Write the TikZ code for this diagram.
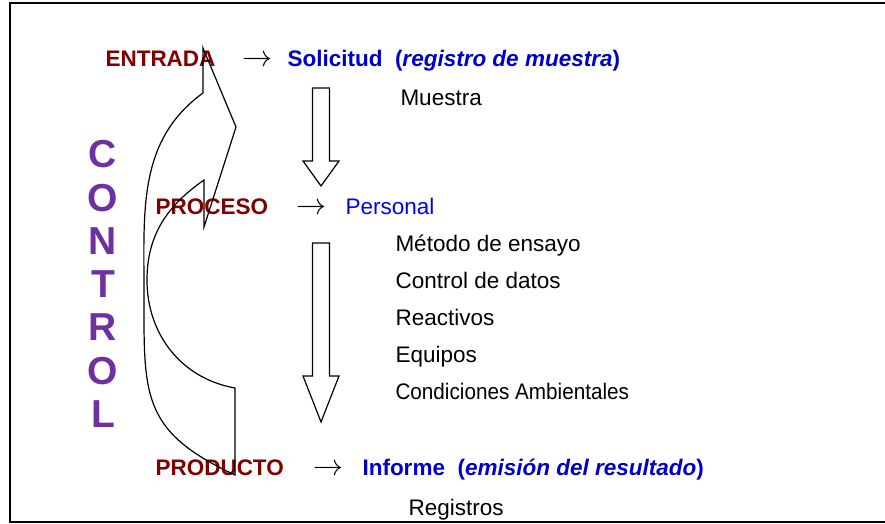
\documentclass[tikz,border=0pt]{standalone}
\usepackage{fontspec}
\setmainfont{Liberation Sans}
\usepackage{xcolor}
\usepackage{graphicx}
\usetikzlibrary{positioning}
\definecolor{etapared}{RGB}{128,0,0}
\definecolor{destinoblue}{RGB}{0,0,204}
\definecolor{controlpurple}{RGB}{112,48,160}
\def\textsize{\fontsize{22.5}{27}\selectfont}
\def\flechita{\scalebox{1.45}{$\rightarrow$}}

\begin{document}
\begin{tikzpicture}[x=1pt,y=1pt,line width=1pt]
    \tikzstyle{etapa}=[anchor=base west,inner sep=0pt,font=\textsize\bfseries,text=etapared]
    \tikzstyle{destino}=[anchor=base west,inner sep=0pt,font=\textsize\bfseries,text=destinoblue]
    \tikzstyle{item}=[anchor=base west,inner sep=0pt,font=\textsize]
    \tikzstyle{flecha}=[anchor=base west,inner sep=0pt,font=\textsize]
    \tikzstyle{hueca}=[draw=black,line width=1.2pt]
    \useasboundingbox (0,0) rectangle (885,524);

    % marco
    \draw[line width=1.8pt] (885,521) -- (10,521) -- (10,2) -- (885,2);

    % Entrada
    \node[etapa] (entrada) at (105,457) {ENTRADA};
    \node[flecha] (F-1) at (242,457) {\flechita};
    \node[destino] (solicitud) at (287,457) {Solicitud\ \ (\textit{registro de muestra})};
    \node[item] (muestra) at (400,418) {Muestra};

    % Proceso
    \node[etapa] (proceso) at (155,309) {PROCESO};
    \node[flecha] (F-2) at (296,309) {\flechita};
    \node[item,text=blue] (personal) at (345,309) {Personal};
    \foreach \name / \y / \texto in {1/272/Método de ensayo, 2/235/Control de datos,
        3/198/Reactivos, 4/161/Equipos,
        5/124/{\scalebox{0.92}[1]{Condiciones Ambientales}}}
        \node[item] (R-\name) at (395,\y) {\texto};

    % Producto
    \node[etapa] (producto) at (155,48) {PRODUCTO};
    \node[flecha] (F-3) at (313,48) {\flechita};
    \node[destino] (informe) at (362,48) {Informe\ \ (\textit{emisión del resultado})};
    \node[item] (registros) at (408,9) {Registros};

    % CONTROL, una letra por linea
    \node[inner sep=0pt,align=center,text=controlpurple,
        font=\fontsize{39}{43.3}\selectfont\bfseries] (control) at (103,240)
        {C\\O\\N\\T\\R\\O\\L};

    % flechas huecas hacia abajo
    \foreach \top / \neck / \tip in {436/363/338, 281/148/102}
        \draw[hueca] (312.5,\top) -- (329.5,\top) -- (329.5,\neck) -- (339,\neck)
            -- (321,\tip) -- (303,\neck) -- (312.5,\neck) -- cycle;

    % flecha curva de control
    \draw[hueca] (203,476) -- (236,397) -- (204,297) -- (204,344)
        to[out=215,in=90] (147,244) to[out=-90,in=170] (235,136)
        -- (235,49) to[out=155,in=-90,looseness=1.3] (144,234)
        to[out=90,in=216] (203,431) -- cycle;
\end{tikzpicture}
\end{document}
